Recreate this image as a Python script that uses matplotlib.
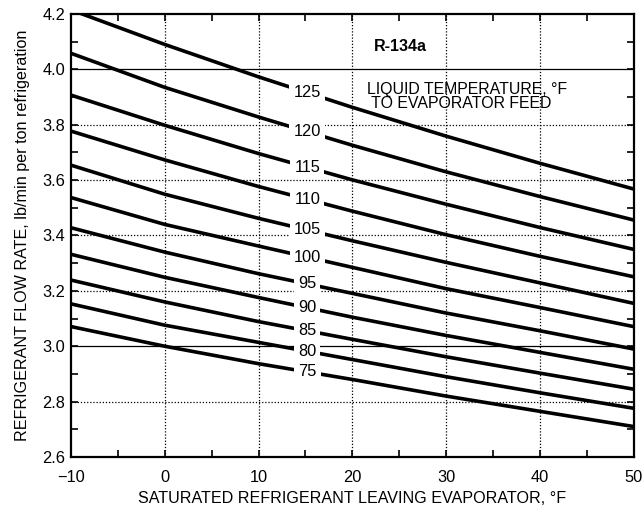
import matplotlib
matplotlib.use("Agg")
import matplotlib.pyplot as plt
from matplotlib.ticker import MultipleLocator

plt.rcParams['font.family'] = ['Liberation Sans', 'DejaVu Sans']

# Saturated refrigerant temperature leaving evaporator, °F
evap_temp = [-10, 0, 10, 20, 30, 40, 50]

# Refrigerant flow rate (lb/min per ton) for each liquid temperature (°F)
liquid_temps = [125, 120, 115, 110, 105, 100, 95, 90, 85, 80, 75]
flow_125 = [4.215, 4.090, 3.973, 3.863, 3.759, 3.661, 3.568]
flow_120 = [4.058, 3.935, 3.828, 3.726, 3.630, 3.541, 3.456]
flow_115 = [3.907, 3.798, 3.696, 3.601, 3.513, 3.429, 3.350]
flow_110 = [3.777, 3.673, 3.577, 3.488, 3.403, 3.325, 3.251]
flow_105 = [3.654, 3.549, 3.462, 3.381, 3.303, 3.229, 3.155]
flow_100 = [3.537, 3.440, 3.362, 3.285, 3.208, 3.140, 3.071]
flow_95 = [3.428, 3.340, 3.262, 3.191, 3.120, 3.056, 2.990]
flow_90 = [3.332, 3.249, 3.176, 3.105, 3.039, 2.978, 2.917]
flow_85 = [3.239, 3.160, 3.089, 3.025, 2.962, 2.903, 2.845]
flow_80 = [3.153, 3.076, 3.014, 2.952, 2.890, 2.832, 2.776]
flow_75 = [3.071, 3.000, 2.937, 2.880, 2.820, 2.765, 2.710]

series = [flow_125, flow_120, flow_115, flow_110, flow_105, flow_100,
          flow_95, flow_90, flow_85, flow_80, flow_75]

x_ticks = [-10, 0, 10, 20, 30, 40, 50]
y_ticks = [2.6, 2.8, 3.0, 3.2, 3.4, 3.6, 3.8, 4.0, 4.2]
label_x = 15.2

fig = plt.figure(figsize=(6.42, 5.13), dpi=100)
ax = fig.add_axes([0.1106, 0.1092, 0.8762, 0.8635])

ax.set_xlim(-10, 50)
ax.set_ylim(2.6, 4.2)

# grid
for gx in [0, 10, 20, 30, 40]:
    ax.axvline(gx, color='black', lw=0.9, ls=(0, (1, 1.5)), zorder=1)
for gy in [2.8, 3.2, 3.4, 3.6, 3.8]:
    ax.axhline(gy, color='black', lw=0.9, ls=(0, (1, 1.5)), zorder=1)
for gy in [3.0, 4.0]:
    ax.axhline(gy, color='black', lw=0.9, zorder=1)

for t, ys in zip(liquid_temps, series):
    ax.plot(evap_temp, ys, color='black', lw=2.6, solid_capstyle='butt', zorder=3)
    # label on the curve
    yl = None
    for i in range(len(evap_temp) - 1):
        if evap_temp[i] <= label_x <= evap_temp[i + 1]:
            f = (label_x - evap_temp[i]) / (evap_temp[i + 1] - evap_temp[i])
            yl = ys[i] + f * (ys[i + 1] - ys[i])
    ax.text(label_x, yl, str(t), ha='center', va='center', fontsize=11.8,
            zorder=5, bbox=dict(boxstyle='square,pad=0.25', fc='white', ec='none'))

ax.text(25.1, 4.082, 'R-134a', ha='center', va='center', fontsize=11.5,
        fontweight='bold', zorder=6)
ax.text(21.6, 3.903, 'LIQUID TEMPERATURE, °F\n TO EVAPORATOR FEED', ha='left',
        va='center', fontsize=11.4, linespacing=0.95, zorder=6)

ax.set_xticks(x_ticks)
ax.set_xticklabels(['\u221210' if v < 0 else str(v) for v in x_ticks])
ax.set_yticks(y_ticks)
ax.set_yticklabels([f'{v:.1f}' for v in y_ticks])
ax.xaxis.set_minor_locator(MultipleLocator(5))
ax.yaxis.set_minor_locator(MultipleLocator(0.1))
ax.tick_params(which='both', direction='in', top=True, right=True,
               length=5, width=1.2, labelsize=11.8, color='black')
ax.tick_params(axis='x', which='major', pad=9.5)
ax.tick_params(axis='y', which='major', pad=4)

for s in ax.spines.values():
    s.set_linewidth(1.6)
    s.set_zorder(7)

ax.set_xlabel('SATURATED REFRIGERANT LEAVING EVAPORATOR, °F', fontsize=11.6, labelpad=4)
ax.set_ylabel('REFRIGERANT FLOW RATE, lb/min per ton refrigeration', fontsize=11.6, labelpad=9)

fig.savefig('out.png', dpi=100)
